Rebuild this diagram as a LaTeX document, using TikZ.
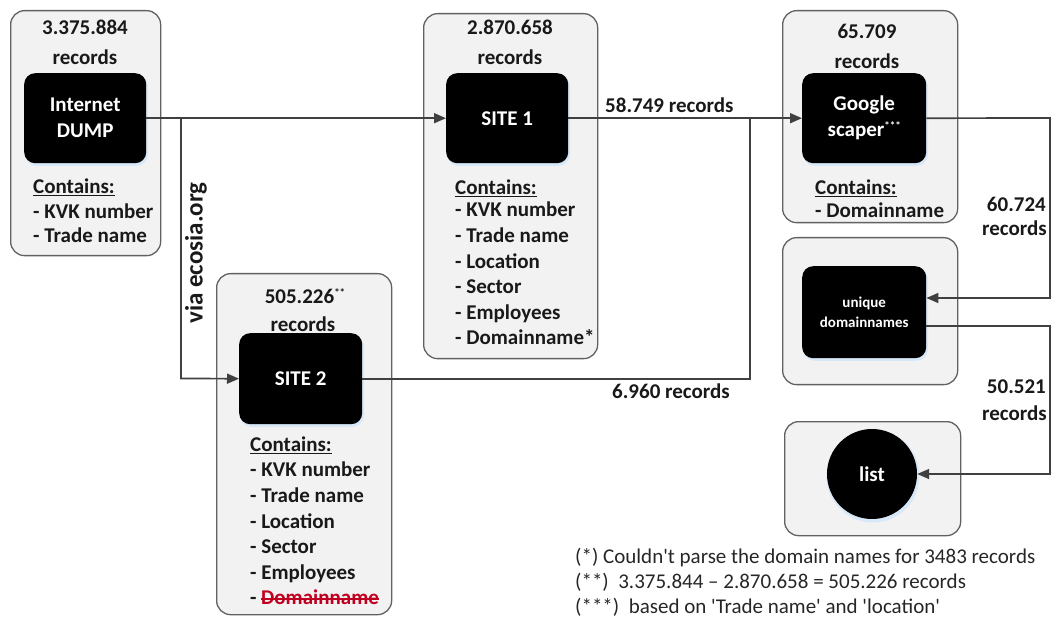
\documentclass[tikz,border=0pt]{standalone}
\usepackage{fontspec}
\setmainfont{Carlito}
\usetikzlibrary{arrows.meta,calc}
\definecolor{strikered}{RGB}{192,0,32}
\definecolor{boxfill}{RGB}{242,242,242}
\definecolor{glowc}{RGB}{215,232,248}
\begin{document}
\begin{tikzpicture}[x=1pt,y=-1pt,
  outerbox/.style={draw=black!62, line width=1.3pt, fill=boxfill, rounded corners=14pt, anchor=north west, inner sep=0pt},
  blackbox/.style={fill=black, rounded corners=11pt, anchor=north west, inner sep=0pt, text=white, align=center, font=\fontsize{21}{26}\selectfont\bfseries},
  glow/.style={fill=glowc, rounded corners=12pt},
  conn/.style={draw=black!75, line width=1.7pt},
  arr/.style={-{Triangle[length=12pt,width=10pt]}},
  bl/.style={font=\fontsize{21}{25}\selectfont\bfseries, text=black!90, inner sep=0pt},
  fn/.style={font=\fontsize{21}{25}\selectfont, text=black!85, inner sep=0pt, anchor=base west}]
\useasboundingbox (0,0) rectangle (1052,617);

% ---------- outer boxes ----------
\node[outerbox, minimum width=150pt, minimum height=245pt] (boxA) at (10,10) {};
\node[outerbox, minimum width=175pt, minimum height=341pt] (box2) at (216,273) {};
\node[outerbox, minimum width=174pt, minimum height=345pt] (box1) at (423,13) {};
\node[outerbox, minimum width=175pt, minimum height=212pt] (boxG) at (782,10) {};
\node[outerbox, minimum width=175pt, minimum height=147pt] (boxU) at (782,237) {};
\node[outerbox, minimum width=176pt, minimum height=114pt] (boxL) at (784,421) {};

% ---------- glows ----------
\fill[glow] (25,75) rectangle (148,166);
\fill[glow] (240,335) rectangle (364,427);
\fill[glow] (447,75) rectangle (570,166);
\fill[glow] (803,75) rectangle (928,166);
\fill[glow] (803,268) rectangle (928,361);
\fill[glowc] (873,476) circle (46.5);

% ---------- black nodes ----------
\node[blackbox, minimum width=122pt, minimum height=90pt] (inA) at (24,73) {Internet\\DUMP};
\node[blackbox, minimum width=123pt, minimum height=91pt] (in2) at (239,333) {SITE 2};
\node[blackbox, minimum width=122pt, minimum height=90pt] (in1) at (446,73) {SITE 1};
\node[blackbox, minimum width=124pt, minimum height=90pt] (inG) at (802,73)
  {Google\\scaper\raisebox{7pt}{\fontsize{11}{11}\selectfont ***}};
\node[blackbox, minimum width=124pt, minimum height=92pt, font=\fontsize{15}{20}\selectfont\bfseries] (inU) at (802,266) {unique\\domainnames};
\node[circle, fill=black, minimum size=90pt, inner sep=0pt, text=white, font=\fontsize{21}{25}\selectfont\bfseries] (list) at (872,474) {list};

% ---------- box texts ----------
\node[bl, anchor=base] (nA1) at (85,34.5) {3.375.884};
\node[bl, anchor=base] (nA2) at (85,64.5) {records};
\node[bl, anchor=base west] (cA0) at (33,193.5) {\underline{Contains:}};
\node[bl, anchor=base west] (cA1) at (33,218.5) {- KVK number};
\node[bl, anchor=base west] (cA2) at (33,242.5) {- Trade name};

\node[bl, anchor=base] (n11) at (510,34.5) {2.870.658};
\node[bl, anchor=base] (n12) at (510,64.5) {records};
\node[bl, anchor=base west] (c10) at (455,194.5) {\underline{Contains:}};
\node[bl, anchor=base west] (c11) at (455,217) {- KVK number};
\node[bl, anchor=base west] (c12) at (455,243) {- Trade name};
\node[bl, anchor=base west] (c13) at (455,268.5) {- Location};
\node[bl, anchor=base west] (c14) at (455,294) {- Sector};
\node[bl, anchor=base west] (c15) at (455,319.5) {- Employees};
\node[bl, anchor=base west] (c16) at (455,345) {- Domainname*};

\node[bl, anchor=base] (n21) at (305,303.5) {505.226\raisebox{7pt}{\fontsize{11}{11}\selectfont **}};
\node[bl, anchor=base] (n22) at (303,331.5) {records};
\node[bl, anchor=base west] (c20) at (250,451.5) {\underline{Contains:}};
\node[bl, anchor=base west] (c21) at (250,476.5) {- KVK number};
\node[bl, anchor=base west] (c22) at (250,502.5) {- Trade name};
\node[bl, anchor=base west] (c23) at (250,528.5) {- Location};
\node[bl, anchor=base west] (c24) at (250,553.5) {- Sector};
\node[bl, anchor=base west] (c25) at (250,579.5) {- Employees};
\node[bl, anchor=base west] (c26) at (250,604.5) {-};
\node[bl, anchor=base west, text=strikered] (c27) at (261,604.5) {Domainname};
\draw[strikered, line width=1.1pt] ([yshift=5.5pt]c27.base west) -- ([yshift=5.5pt]c27.base east);

\node[bl, anchor=base] (nG1) at (867,38.5) {65.709};
\node[bl, anchor=base] (nG2) at (867,68.5) {records};
\node[bl, anchor=base west] (cG0) at (815,194.5) {\underline{Contains:}};
\node[bl, anchor=base west] (cG1) at (815,217.5) {- Domainname};

% ---------- connectors ----------
\coordinate (bA) at (181,118);
\coordinate (bB) at (181,378.5);
\coordinate (c1) at (750,118);
\coordinate (r1) at (1050,118);
\coordinate (r2) at (1050,298);
\coordinate (r3) at (1050,326);
\coordinate (r4) at (1050,474);

\draw[conn,arr] (inA.east) -- (in1.west);
\draw[conn,arr] (bA) -- (bB) -- (in2.west);
\draw[conn,arr] (in1.east) -- (inG.west);
\draw[conn] (in2.east) -- (c1 |- in2.east) -- (c1);
\draw[conn,arr] (inG.east) -- (r1) -- (r2) -- (inU.east |- r2);
\draw[conn,arr] (inU.east |- r3) -- (r3) -- (r4) -- (list.east);

% ---------- connector labels ----------
\node[bl, anchor=base west] (l1) at (605,113) {58.749 records};
\node[bl, anchor=base west] (l2) at (612,398.5) {6.960 records};
\node[bl, anchor=base east] (l3) at (1046,211.5) {60.724};
\node[bl, anchor=base east] (l3b) at (1047,235.5) {records};
\node[bl, anchor=base east] (l4) at (1046,393.5) {50.521};
\node[bl, anchor=base east] (l4b) at (1047,420) {records};
\node[font=\fontsize{25}{25}\selectfont\bfseries, text=black!90, rotate=90, inner sep=0pt] (via) at (196,253) {via ecosia.org};

% ---------- footnotes ----------
\node[fn] (f1) at (575,563.5) {(*) Couldn\textquotesingle t parse the domain names for 3483 records};
\node[fn] (f2) at (575,588.5) {(**)\ \ 3.375.844 \textendash\ 2.870.658 = 505.226 records};
\node[fn] (f3) at (575,613) {(***)\ \ based on \textquotesingle Trade name\textquotesingle\ and \textquotesingle location\textquotesingle};
\end{tikzpicture}
\end{document}
